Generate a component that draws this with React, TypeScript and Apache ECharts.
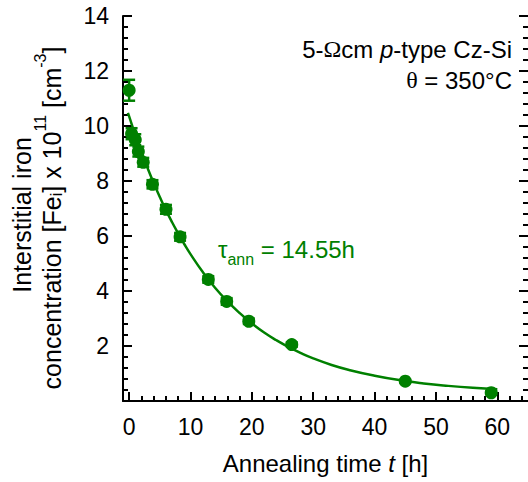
import React, { useEffect, useRef } from "react";
import * as echarts from "echarts";

const GREEN = "#008000";
const FONT = "Liberation Sans";

// measured points: [time h, Fe_i x1e11 cm^-3, error]
const pointTimes = [0, 0.4, 1.0, 1.5, 2.3, 3.8, 6.0, 8.3, 12.9, 15.9, 19.5, 26.5, 45, 59];
const pointValues = [11.3, 9.72, 9.5, 9.07, 8.68, 7.88, 6.97, 5.97, 4.42, 3.62, 2.9, 2.05, 0.72, 0.3];
const pointErrors = [0.38, 0.2, 0.2, 0.18, 0.16, 0.15, 0.16, 0.14, 0.12, 0.12, 0.1, 0.08, 0.05, 0.05];

// fitted curve
const curveTimes = [-0.2, 0, 1, 2, 3, 4, 5, 6, 7, 8, 9, 10, 12, 14, 16, 18, 20, 22, 24, 26, 28, 30, 33, 36, 40, 44, 48, 52, 56, 60];
const curveValues = [10.48, 10.35, 9.68, 9.06, 8.47, 7.93, 7.42, 6.94, 6.5, 6.09, 5.7, 5.34, 4.69, 4.12, 3.63, 3.2, 2.82, 2.49, 2.21, 1.96, 1.74, 1.55, 1.31, 1.12, 0.92, 0.76, 0.64, 0.55, 0.48, 0.43];

const xMajorTicks = [0, 10, 20, 30, 40, 50, 60];
const xMinorTicks = [2, 4, 6, 8, 12, 14, 16, 18, 22, 24, 26, 28, 32, 34, 36, 38, 42, 44, 46, 48, 52, 54, 56, 58, 62, 64];

export default function App() {
  const ref = useRef<HTMLDivElement>(null);
  useEffect(() => {
    document.body.style.margin = "0";
    if (!ref.current) return;
    const chart = echarts.init(ref.current, null, { renderer: "svg" });
    const pts = pointTimes.map((t, i) => [t, pointValues[i], pointErrors[i]]);
    const curve = curveTimes.map((t, i) => [t, curveValues[i]]);
    const axisCommon = {
      type: "value" as const,
      splitLine: { show: false },
    };
    chart.setOption({
      animation: false,
      grid: { left: 123, top: 16, width: 406, height: 385, containLabel: false },
      xAxis: [
        {
          ...axisCommon,
          min: -1,
          max: 65,
          position: "bottom",
          axisLine: { show: true, onZero: false, lineStyle: { color: "#000", width: 2 } },
          axisTick: { show: true, inside: true, length: 9, customValues: xMajorTicks, lineStyle: { color: "#000", width: 2 } },
          axisLabel: { show: true, customValues: xMajorTicks, color: "#000", fontSize: 23, fontFamily: FONT, margin: 14 },
          name: "{n|Annealing time }{i|t}{n| [h]}",
          nameLocation: "middle",
          nameGap: 50,
          nameTextStyle: {
            rich: {
              n: { fontSize: 24, fontFamily: FONT, color: "#000" },
              i: { fontSize: 24, fontFamily: FONT, color: "#000", fontStyle: "italic" },
            },
          },
        },
        {
          ...axisCommon,
          min: -1,
          max: 65,
          position: "bottom",
          axisLine: { show: false, onZero: false },
          axisTick: { show: true, inside: true, length: 5, customValues: xMinorTicks, lineStyle: { color: "#000", width: 2 } },
          axisLabel: { show: false },
        },
      ],
      yAxis: [
        {
          ...axisCommon,
          min: 0,
          max: 14,
          interval: 2,
          position: "left",
          axisLine: { show: true, onZero: false, lineStyle: { color: "#000", width: 2 } },
          axisTick: { show: true, inside: true, length: 9, lineStyle: { color: "#000", width: 2 } },
          minorTick: { show: true, splitNumber: 5, length: 5, lineStyle: { color: "#000", width: 2 } },
          axisLabel: {
            color: "#000",
            fontSize: 23,
            fontFamily: FONT,
            margin: 14,
            formatter: (v: number) => (v === 0 ? "" : String(v)),
          },
        },
        {
          ...axisCommon,
          min: 0,
          max: 14,
          interval: 2,
          position: "right",
          axisLine: { show: false, onZero: false },
          axisTick: { show: true, inside: true, length: 9, lineStyle: { color: "#000", width: 2 } },
          minorTick: { show: true, splitNumber: 5, length: 5, lineStyle: { color: "#000", width: 2 } },
          axisLabel: { show: false },
        },
      ],
      series: [
        {
          type: "line",
          data: curve,
          showSymbol: false,
          smooth: true,
          lineStyle: { color: GREEN, width: 2.5 },
          z: 2,
        },
        {
          type: "custom",
          data: pts,
          encode: { x: 0, y: 1 },
          z: 3,
          renderItem: (_params: any, api: any) => {
            const x = api.value(0);
            const y = api.value(1);
            const e = api.value(2);
            const top = api.coord([x, y + e]);
            const bot = api.coord([x, y - e]);
            const hw = 6;
            const style = { stroke: GREEN, lineWidth: 2.5 };
            return {
              type: "group",
              children: [
                { type: "line", shape: { x1: top[0], y1: top[1], x2: bot[0], y2: bot[1] }, style },
                { type: "line", shape: { x1: top[0] - hw, y1: top[1], x2: top[0] + hw, y2: top[1] }, style },
                { type: "line", shape: { x1: bot[0] - hw, y1: bot[1], x2: bot[0] + hw, y2: bot[1] }, style },
              ],
            };
          },
        },
        {
          type: "scatter",
          data: pts.map((p) => [p[0], p[1]]),
          symbol: "circle",
          symbolSize: 13,
          itemStyle: { color: GREEN, opacity: 1 },
          z: 4,
        },
      ],
      graphic: [
        {
          type: "text",
          x: 512,
          y: 49,
          style: {
            text: "{n|5-}{s|Ω}{n|cm }{i|p}{n|-type Cz-Si}",
            align: "right",
            verticalAlign: "middle",
            rich: {
              n: { fontSize: 24, fontFamily: FONT, fill: "#000" },
              s: { fontSize: 24, fontFamily: "Liberation Serif", fill: "#000" },
              i: { fontSize: 24, fontFamily: FONT, fontStyle: "italic", fill: "#000" },
            },
          },
        },
        {
          type: "text",
          x: 512,
          y: 80,
          style: {
            text: "{s|θ}{n| = 350°C}",
            align: "right",
            verticalAlign: "middle",
            rich: {
              n: { fontSize: 24, fontFamily: FONT, fill: "#000" },
              s: { fontSize: 24, fontFamily: "Liberation Serif", fill: "#000" },
            },
          },
        },
        {
          type: "text",
          x: 218,
          y: 249,
          style: {
            text: "{t|τ}{sub|ann}{t| = 14.55h}",
            align: "left",
            verticalAlign: "middle",
            rich: {
              t: { fontSize: 24, fontFamily: FONT, fill: GREEN, lineHeight: 36, verticalAlign: "middle" },
              sub: { fontSize: 16, fontFamily: FONT, fill: GREEN, lineHeight: 12, verticalAlign: "bottom" },
            },
          },
        },
        {
          type: "text",
          x: 22,
          y: 215,
          rotation: Math.PI / 2,
          style: {
            text: "Interstitial iron",
            align: "center",
            verticalAlign: "middle",
            fontSize: 25,
            fontFamily: FONT,
            fill: "#000",
          },
        },
        {
          type: "text",
          x: 48,
          y: 218,
          rotation: Math.PI / 2,
          style: {
            text: "{n|concentration [Fe}{sub|i}{n|] x 10}{sup|11}{n| [cm}{sup|-3}{n|]}",
            align: "center",
            verticalAlign: "middle",
            rich: {
              n: { fontSize: 25, fontFamily: FONT, fill: "#000", lineHeight: 26, verticalAlign: "bottom" },
              sup: { fontSize: 16, fontFamily: FONT, fill: "#000", lineHeight: 32, verticalAlign: "top" },
              sub: { fontSize: 16, fontFamily: FONT, fill: "#000", lineHeight: 10, verticalAlign: "bottom" },
            },
          },
        },
      ],
    });
    return () => chart.dispose();
  }, []);
  return <div ref={ref} style={{ width: 528, height: 482 }} />;
}
